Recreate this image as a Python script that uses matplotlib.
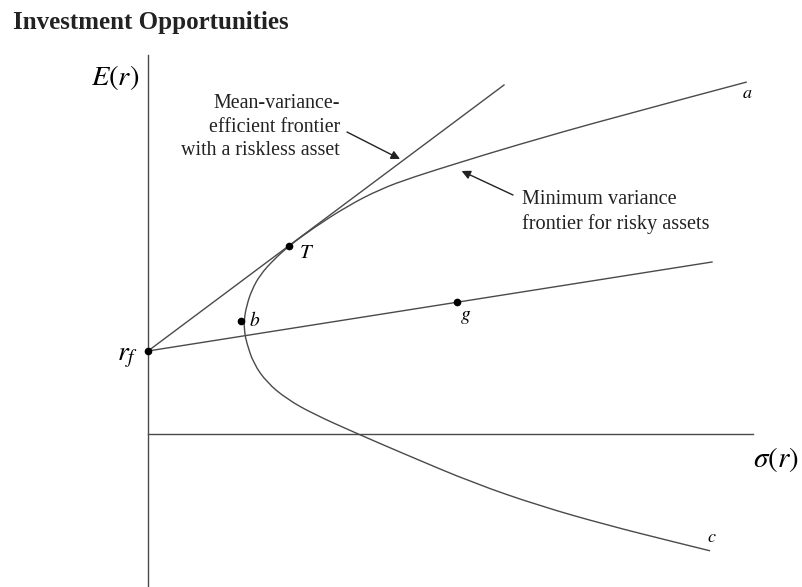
import matplotlib
matplotlib.use("Agg")
import matplotlib.pyplot as plt
from matplotlib.path import Path
from matplotlib.patches import PathPatch

plt.rcParams['font.family'] = ['Liberation Serif', 'DejaVu Serif']
plt.rcParams['mathtext.fontset'] = 'stix'

# values (sigma, E(r)) in arbitrary units
frontier_sigma = [29.94, 23.25, 18.27, 15.6, 13.27, 11.6, 9.94, 8.27, 7.07, 6.27,
                  5.6, 5.19, 4.94, 4.8, 4.83, 4.94, 5.27, 5.94, 6.94, 8.27,
                  10.5, 12.94, 16.27, 19.6, 22.94, 26.27, 28.1]
frontier_er = [17.6, 15.82, 14.4, 13.58, 12.85, 12.24, 11.38, 10.3, 9.42, 8.7,
               7.95, 7.2, 6.45, 5.7, 5.05, 4.54, 3.54, 2.58, 1.75, 1.0,
               0.0, -1.05, -2.45, -3.6, -4.55, -5.39, -5.84]

rf = 4.15
cml_sigma = [0, 17.8]
cml_er = [rf, 17.45]
rfg_sigma = [0, 28.2]
rfg_er = [rf, 8.6]

point_names = ['T', 'b', 'g']
point_sigma = [7.07, 4.65, 15.47]
point_er = [9.42, 5.65, 6.62]

line_col = '#4a4a4a'
text_col = '#222222'

fig = plt.figure(figsize=(8.03, 5.87), dpi=100)
ax = fig.add_axes([0, 0, 1, 1])
ax.set_xlim(-7.4, 32.75)
ax.set_ylim(-7.65, 21.7)
ax.axis('off')

# axes drawn as plain lines
ax.plot([0, 0], [-7.65, 18.95], color=line_col, lw=1.0)
ax.plot([0, 30.25], [0, 0], color=line_col, lw=1.0)

# frontier: smooth quadratic curve through the read points
pts = list(zip(frontier_sigma, frontier_er))
verts = [pts[0]]
codes = [Path.MOVETO]
for i in range(1, len(pts) - 1):
    nxt = pts[i + 1] if i == len(pts) - 2 else ((pts[i][0] + pts[i + 1][0]) / 2,
                                                (pts[i][1] + pts[i + 1][1]) / 2)
    verts += [pts[i], nxt]
    codes += [Path.CURVE3, Path.CURVE3]
ax.add_patch(PathPatch(Path(verts, codes), fill=False, edgecolor=line_col, lw=1.0))

ax.plot(cml_sigma, cml_er, color=line_col, lw=1.0)
ax.plot(rfg_sigma, rfg_er, color=line_col, lw=1.0)

ax.plot([0] + point_sigma, [rf] + point_er, 'o', color='black', ms=4.5, ls='none')

ax.text(-1.65, 17.8, r'$E(r)$', fontsize=20.5, ha='center', va='center')
ax.text(31.4, -1.3, r'$\sigma(r)$', fontsize=21, ha='center', va='center')
ax.text(-1.0, 3.85, r'$r_f$', fontsize=20, ha='center', va='center')

ax.text(7.95, 9.05, r'$T$', fontsize=15, ha='center', va='center')
ax.text(5.35, 5.7, r'$b$', fontsize=14, ha='center', va='center')
ax.text(15.9, 5.8, r'$g$', fontsize=14, ha='center', va='center')
ax.text(29.95, 17.05, r'$a$', fontsize=13, ha='center', va='center')
ax.text(28.2, -5.2, r'$c$', fontsize=13, ha='center', va='center')

arrow = dict(arrowstyle='-|>', color=text_col, lw=1.0, mutation_scale=13, shrinkA=0, shrinkB=0)
ax.text(9.6, 15.35, 'Mean-variance-\nefficient frontier\nwith a riskless asset',
        fontsize=14.4, ha='right', va='center', multialignment='right',
        linespacing=1.3, color=text_col)
ax.annotate('', xy=(12.6, 13.75), xytext=(9.95, 15.1), arrowprops=arrow)
ax.text(18.68, 11.1, 'Minimum variance\nfrontier for risky assets',
        fontsize=14.6, ha='left', va='center', linespacing=1.3, color=text_col)
ax.annotate('', xy=(15.68, 13.15), xytext=(18.25, 11.95), arrowprops=arrow)

fig.text(13 / 803, 1 - 23 / 587, 'Investment Opportunities', fontsize=18,
         fontweight='bold', ha='left', va='center', color=text_col)

fig.savefig('out.png', dpi=100)
